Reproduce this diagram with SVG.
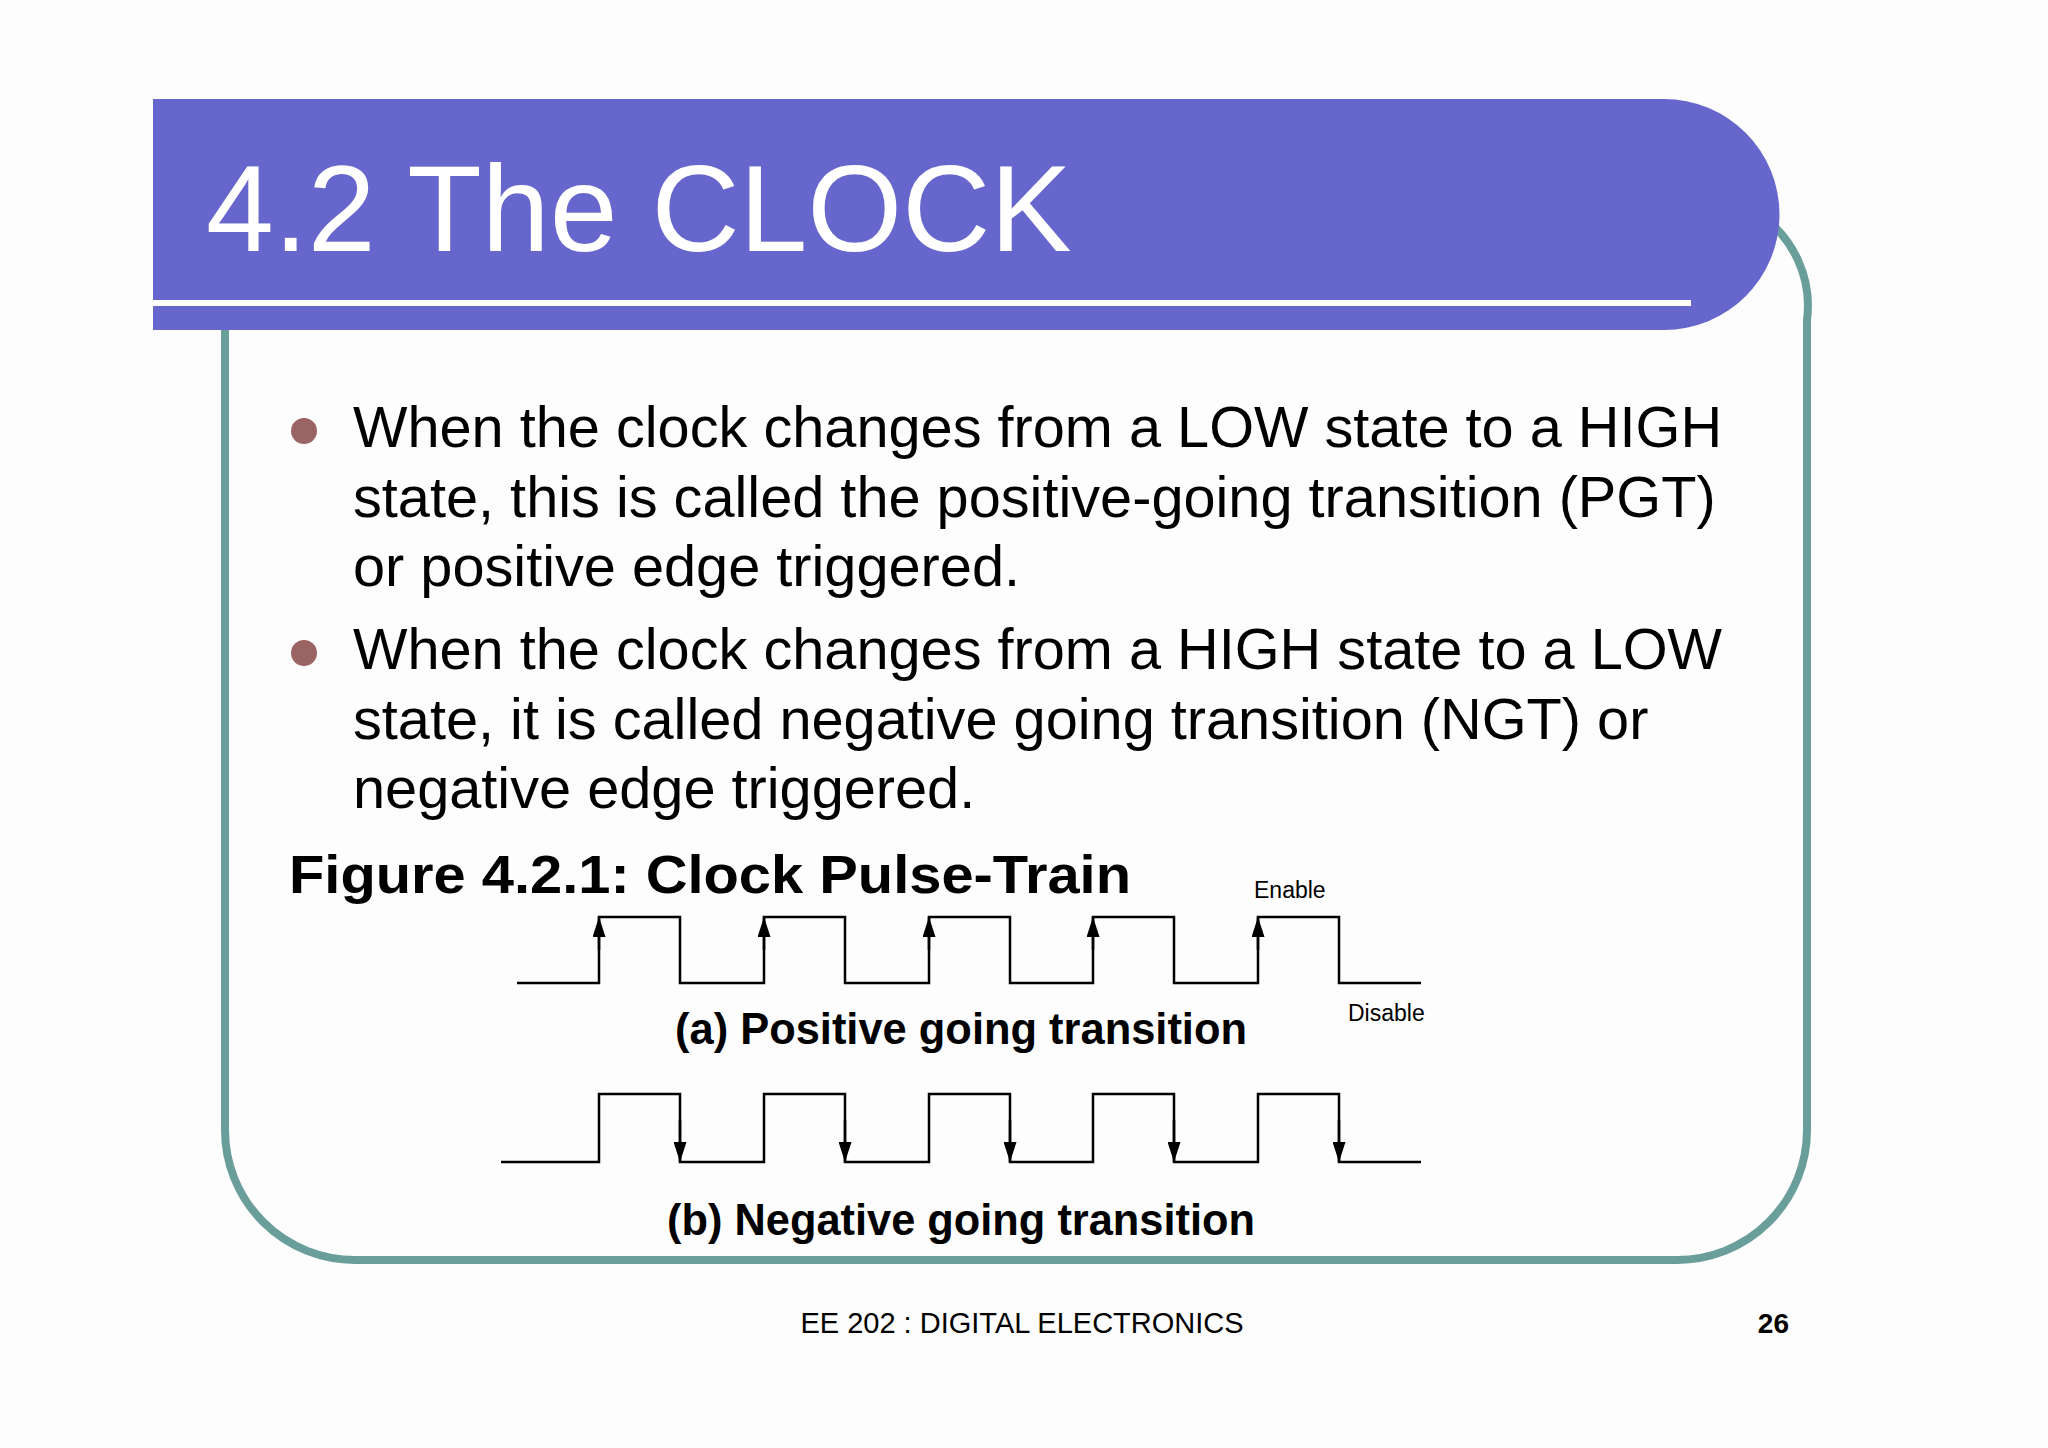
<svg xmlns="http://www.w3.org/2000/svg" width="2048" height="1448" viewBox="0 0 2048 1448">
<style>
.w{fill:none;stroke:#000;stroke-width:2.5}
.b{font-family:"Liberation Sans",Arial,sans-serif;font-size:57.7px;fill:#000}
.lbl{font-family:"Liberation Sans",Arial,sans-serif;font-weight:bold;font-size:44px;fill:#000}
.s{font-family:"Liberation Sans",Arial,sans-serif;font-size:23px;fill:#000}
</style>
<defs>
<marker id="ah" viewBox="0 0 20 13" refX="20" refY="6.5" markerWidth="20" markerHeight="13" markerUnits="userSpaceOnUse" orient="auto">
<path d="M0,0 L20,6.5 L0,13 Z" fill="#000"/>
</marker>
</defs>
<rect width="2048" height="1448" fill="#fdfdfd"/>
<path d="M225,330 V1130 A130,130 0 0 0 355,1260 H1677 A130,130 0 0 0 1807,1130 V320 A110,110 0 0 0 1760,215" fill="none" stroke="#6a9e9b" stroke-width="8"/>
<g id="header">
<path d="M153,99 H1664 A115,115 0 0 1 1664,330 H153 Z" fill="#6666cc"/>
<line x1="153" y1="303" x2="1691" y2="303" stroke="#fff" stroke-width="6"/>
<text x="206" y="251" font-family="Liberation Sans,Arial,sans-serif" font-size="122" fill="#fff">4.2 The CLOCK</text>
</g>
<g id="bullets">
<circle cx="304" cy="431" r="13" fill="#9a6464"/>
<circle cx="304" cy="653" r="13" fill="#9a6464"/>
<text class="b" x="353" y="447">When the clock changes from a LOW state to a HIGH</text>
<text class="b" x="353" y="517">state, this is called the positive-going transition (PGT)</text>
<text class="b" x="353" y="586">or positive edge triggered.</text>
<text class="b" x="353" y="669">When the clock changes from a HIGH state to a LOW</text>
<text class="b" x="353" y="739">state, it is called negative going transition (NGT) or</text>
<text class="b" x="353" y="808">negative edge triggered.</text>
</g>
<text x="289" y="893" font-family="Liberation Sans,Arial,sans-serif" font-weight="bold" font-size="54" textLength="842" lengthAdjust="spacingAndGlyphs">Figure 4.2.1: Clock Pulse-Train</text>
<g id="waveA">
<path class="w" d="M517,983 H599 V917 H680 V983 H764 V917 H845 V983 H929 V917 H1010 V983 H1093 V917 H1174 V983 H1258 V917 H1339 V983 H1421"/>
<g class="w">
<line x1="599" y1="950" x2="599" y2="917" marker-end="url(#ah)"/>
<line x1="764" y1="950" x2="764" y2="917" marker-end="url(#ah)"/>
<line x1="929" y1="950" x2="929" y2="917" marker-end="url(#ah)"/>
<line x1="1093" y1="950" x2="1093" y2="917" marker-end="url(#ah)"/>
<line x1="1258" y1="950" x2="1258" y2="917" marker-end="url(#ah)"/>
</g>
</g>
<g id="waveB">
<path class="w" d="M501,1162 H599 V1094 H680 V1162 H764 V1094 H845 V1162 H929 V1094 H1010 V1162 H1093 V1094 H1174 V1162 H1258 V1094 H1339 V1162 H1421"/>
<g class="w">
<line x1="680" y1="1120" x2="680" y2="1162" marker-end="url(#ah)"/>
<line x1="845" y1="1120" x2="845" y2="1162" marker-end="url(#ah)"/>
<line x1="1010" y1="1120" x2="1010" y2="1162" marker-end="url(#ah)"/>
<line x1="1174" y1="1120" x2="1174" y2="1162" marker-end="url(#ah)"/>
<line x1="1339" y1="1120" x2="1339" y2="1162" marker-end="url(#ah)"/>
</g>
</g>
<text class="s" x="1254" y="898">Enable</text>
<text class="s" x="1348" y="1021">Disable</text>
<text class="lbl" x="675" y="1044" textLength="572" lengthAdjust="spacingAndGlyphs">(a) Positive going transition</text>
<text class="lbl" x="667" y="1235" textLength="588" lengthAdjust="spacingAndGlyphs">(b) Negative going transition</text>
<text x="1022" y="1333" text-anchor="middle" font-family="Liberation Sans,Arial,sans-serif" font-size="29">EE 202 : DIGITAL ELECTRONICS</text>
<text x="1789" y="1333" text-anchor="end" font-family="Liberation Sans,Arial,sans-serif" font-weight="bold" font-size="28">26</text>
</svg>
